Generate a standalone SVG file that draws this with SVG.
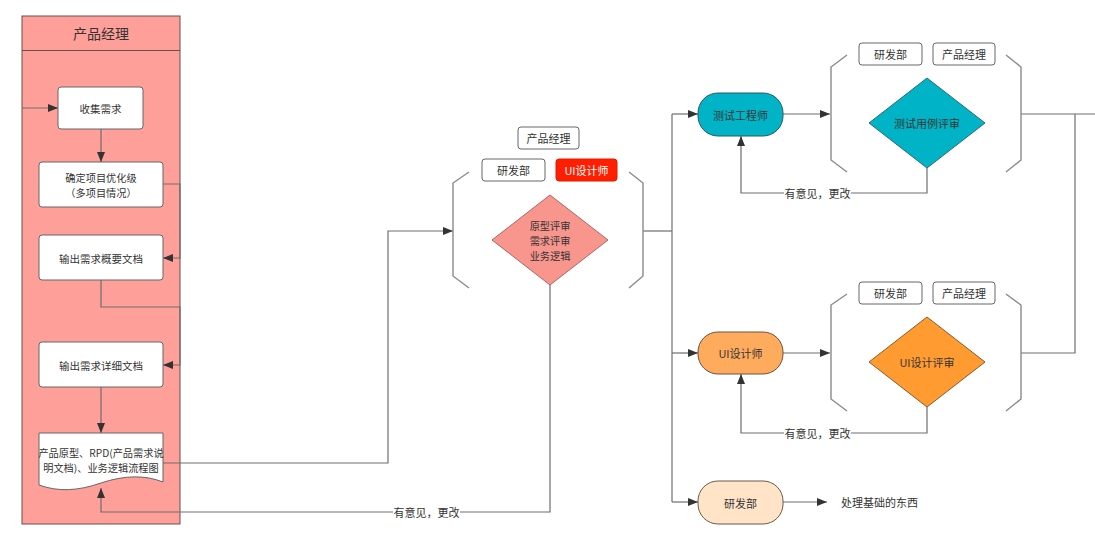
<svg xmlns="http://www.w3.org/2000/svg" width="1095" height="544" viewBox="0 0 1095 544">
<defs>
<style>
text{font-family:"Noto Sans CJK SC","Liberation Sans",sans-serif;fill:#333;text-anchor:middle;dominant-baseline:central}
.t{font-size:10.5px}
.s{font-size:11px}
.d{font-size:10.2px}
.box{fill:#fff;stroke:#666;stroke-width:1}
.tag{fill:#fff;stroke:#666;stroke-width:1}
.ln{fill:none;stroke:#6e6e6e;stroke-width:1.2}
.br{fill:none;stroke:#8a8a8a;stroke-width:1.4}
.lbl{fill:#fff}
</style>
<marker id="ah" viewBox="0 0 10 10" refX="10" refY="5" markerWidth="10" markerHeight="10" markerUnits="userSpaceOnUse" orient="auto">
<path d="M0,1 L10,5 L0,9 Z" fill="#333"/>
</marker>
</defs>
<rect width="1095" height="544" fill="#fff"/>

<g id="lane">
<rect x="22" y="16" width="158" height="508" fill="#ff9f99" stroke="#6a4e4c" stroke-width="1"/>
<line x1="22" y1="50.5" x2="180" y2="50.5" stroke="#6a4e4c" stroke-width="1"/>
<text x="101" y="33" style="font-size:14px">产品经理</text>
</g>

<g id="connectors">
<path class="ln" d="M22,108 H58" marker-end="url(#ah)"/>
<path class="ln" d="M101,129 V162" marker-end="url(#ah)"/>
<path class="ln" d="M163,184 H180 V258 H163" marker-end="url(#ah)"/>
<path class="ln" d="M101,280 V307 H180 V365 H163" marker-end="url(#ah)"/>
<path class="ln" d="M101,387 V433" stroke-width="1.8" marker-end="url(#ah)"/>
<path class="ln" d="M163,463 H388 V231 H453" marker-end="url(#ah)"/>
<path class="ln" d="M550,285 V512 H101 V488" marker-end="url(#ah)"/>
<path class="ln" d="M643,231 H672"/>
<path class="ln" d="M672,114 V502"/>
<path class="ln" d="M672,114 H698" marker-end="url(#ah)"/>
<path class="ln" d="M672,353 H698" marker-end="url(#ah)"/>
<path class="ln" d="M672,502 H698" marker-end="url(#ah)"/>
<path class="ln" d="M783,114 H830" marker-end="url(#ah)"/>
<path class="ln" d="M783,353 H830" marker-end="url(#ah)"/>
<path class="ln" d="M783,502 H827" marker-end="url(#ah)"/>
<path class="ln" d="M927,168 V193 H741 V136" marker-end="url(#ah)"/>
<path class="ln" d="M927,407 V433 H741 V374" marker-end="url(#ah)"/>
<path class="ln" d="M1021,114 H1095"/>
<path class="ln" d="M1075,114 V353 H1021"/>
<rect class="lbl" x="393" y="504" width="67" height="16"/>
<text class="s" x="426.5" y="512">有意见，更改</text>
<rect class="lbl" x="784" y="185" width="67" height="16"/>
<text class="s" x="817.5" y="193">有意见，更改</text>
<rect class="lbl" x="784" y="425" width="67" height="16"/>
<text class="s" x="817.5" y="433">有意见，更改</text>
</g>

<g id="collect">
<rect class="box" x="58" y="87" width="85" height="42" rx="3"/>
<text class="t" x="100.5" y="108">收集需求</text>
</g>
<g id="priority">
<rect class="box" x="39" y="162" width="124" height="45" rx="3"/>
<text class="d" x="101" y="177">确定项目优化级</text>
<text class="d" x="101" y="192">（多项目情况）</text>
</g>
<g id="summary-doc">
<rect class="box" x="39" y="235" width="124" height="45" rx="3"/>
<text class="t" x="101" y="258">输出需求概要文档</text>
</g>
<g id="detail-doc">
<rect class="box" x="39" y="342" width="124" height="45" rx="3"/>
<text class="t" x="101" y="365">输出需求详细文档</text>
</g>
<g id="prototype-doc">
<path d="M39,433 H163 V482 C145,475 125,475 101,483 C78,491 58,492 39,485 Z" fill="#fff" stroke="#666" stroke-width="1"/>
<text class="d" x="101" y="452.5">产品原型、RPD(产品需求说</text>
<text class="d" x="101" y="467.5">明文档)、业务逻辑流程图</text>
</g>

<g id="review1">
<path class="br" d="M469,172 L453,183 V276 L469,288"/>
<path class="br" d="M629,172 L643,183 V276 L629,288"/>
<rect class="tag" x="518" y="127" width="61" height="22" rx="3"/>
<text class="s" x="548.5" y="138">产品经理</text>
<rect class="tag" x="482" y="159" width="63" height="22" rx="3"/>
<text class="s" x="513.5" y="170">研发部</text>
<rect x="556" y="159" width="61" height="22" rx="3" fill="#ff1f00" stroke="#e01a00"/>
<text class="s" x="586.5" y="170" style="fill:#fff">UI设计师</text>
<path d="M550,195 L608,240 L550,285 L492,240 Z" fill="#f8968e" stroke="#b06560" stroke-width="1"/>
<text class="d" x="550" y="225.5">原型评审</text>
<text class="d" x="550" y="240.5">需求评审</text>
<text class="d" x="550" y="255.5">业务逻辑</text>
</g>

<g id="tester">
<rect x="698" y="93" width="85" height="43" rx="20" fill="#00b3c6" stroke="#2d5a60" stroke-width="1"/>
<text class="s" x="740.5" y="114.5">测试工程师</text>
</g>
<g id="review-test">
<path class="br" d="M847,55 L831,67 V160 L847,172"/>
<path class="br" d="M1006,55 L1021,67 V160 L1006,172"/>
<rect class="tag" x="859" y="43" width="63" height="22" rx="3"/>
<text class="s" x="890.5" y="54">研发部</text>
<rect class="tag" x="933" y="43" width="62" height="22" rx="3"/>
<text class="s" x="964" y="54">产品经理</text>
<path d="M927,78 L985,123 L927,168 L869,123 Z" fill="#00b3c6" stroke="#2d6a72" stroke-width="1"/>
<text class="s" x="927" y="123">测试用例评审</text>
</g>

<g id="ui-designer">
<rect x="698" y="332" width="85" height="42" rx="20" fill="#ffab5e" stroke="#6a5240" stroke-width="1"/>
<text class="s" x="740.5" y="353">UI设计师</text>
</g>
<g id="review-ui">
<path class="br" d="M847,294 L831,305 V399 L847,411"/>
<path class="br" d="M1006,294 L1021,305 V399 L1006,411"/>
<rect class="tag" x="859" y="282" width="63" height="22" rx="3"/>
<text class="s" x="890.5" y="293">研发部</text>
<rect class="tag" x="933" y="282" width="62" height="22" rx="3"/>
<text class="s" x="964" y="293">产品经理</text>
<path d="M927,317 L985,362 L927,407 L869,362 Z" fill="#ff9b30" stroke="#8a5a2a" stroke-width="1"/>
<text class="s" x="927" y="362">UI设计评审</text>
</g>

<g id="rd">
<rect x="698" y="481" width="85" height="43" rx="20" fill="#ffe4c8" stroke="#6a5a4a" stroke-width="1"/>
<text class="s" x="740.5" y="502.5">研发部</text>
</g>
<g id="basics">
<text class="s" x="841" y="502" style="text-anchor:start">处理基础的东西</text>
</g>
</svg>
